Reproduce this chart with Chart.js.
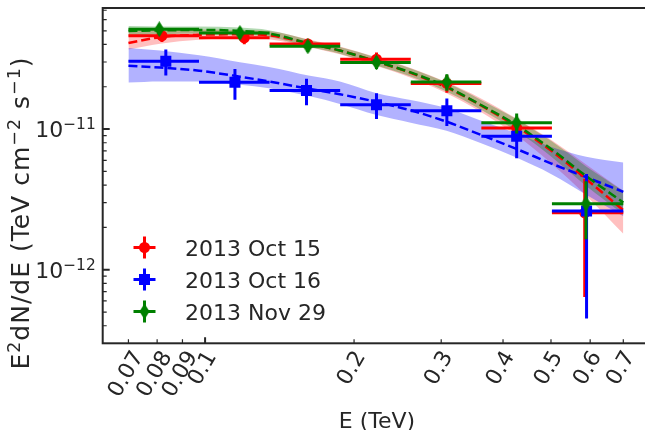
<!DOCTYPE html>
<html>
<head>
<meta charset="utf-8">
<script src="https://cdn.jsdelivr.net/npm/chart.js@4.4.1/dist/chart.umd.min.js"></script>
<style>
  html, body { margin: 0; padding: 0; background: #fff; overflow: hidden; }
  #wrap { width: 660px; height: 430px; }
</style>
</head>
<body>
<div id="wrap"><canvas id="c"></canvas></div>
<script>
// energy bins (TeV), shared by the three nights
const binLo = [0.07, 0.0972, 0.135, 0.1875, 0.2604, 0.3616, 0.5022];
const binHi = [0.0972, 0.135, 0.1875, 0.2604, 0.3616, 0.5022, 0.7];

// flux points E^2 dN/dE (TeV cm^-2 s^-1)
const eOct15 = [0.0818, 0.1200, 0.1613, 0.2220, 0.3080, 0.4262, 0.585];
const fOct15 = [4.61e-11, 4.46e-11, 4.03e-11, 3.14e-11, 2.11e-11, 1.02e-11, 2.54e-12];
const errOct15 = [0.45e-11, 0.45e-11, 0.35e-11, 0.37e-11, 0.30e-11, 0.17e-11, 1.9e-12];

const eOct16 = [0.0833, 0.1149, 0.1603, 0.2220, 0.3080, 0.4262, 0.590];
const fOct16 = [3.04e-11, 2.15e-11, 1.88e-11, 1.49e-11, 1.35e-11, 0.89e-11, 2.62e-12];
const errOct16 = [0.64e-11, 0.53e-11, 0.40e-11, 0.31e-11, 0.30e-11, 0.27e-11, 2.17e-12];

const eNov29 = [0.0808, 0.1176, 0.1613, 0.2220, 0.3080, 0.4262, 0.5884];
const fNov29 = [5.13e-11, 4.83e-11, 3.88e-11, 2.98e-11, 2.16e-11, 1.11e-11, 2.95e-12];
const errNov29 = [0.40e-11, 0.42e-11, 0.35e-11, 0.30e-11, 0.29e-11, 0.18e-11, 1.3e-12];

// fitted spectra and their bands, read at these energies
const fitE = [0.07, 0.0811, 0.0973, 0.1176, 0.1346, 0.1628, 0.1872, 0.2222, 0.2603, 0.3075, 0.3602, 0.4256, 0.5009, 0.589, 0.7];
const fitOct15 = [4.10e-11, 4.50e-11, 4.68e-11, 4.72e-11, 4.64e-11, 4.05e-11, 3.62e-11, 3.02e-11, 2.51e-11, 1.98e-11, 1.48e-11, 1.044e-11, 0.701e-11, 0.441e-11, 0.265e-11];
const hiOct15 = [4.99e-11, 5.07e-11, 5.11e-11, 5.07e-11, 4.99e-11, 4.32e-11, 3.86e-11, 3.24e-11, 2.72e-11, 2.16e-11, 1.66e-11, 1.19e-11, 0.836e-11, 0.560e-11, 0.364e-11];
const loOct15 = [3.68e-11, 4.05e-11, 4.32e-11, 4.42e-11, 4.36e-11, 3.80e-11, 3.40e-11, 2.81e-11, 2.32e-11, 1.80e-11, 1.33e-11, 0.904e-11, 0.569e-11, 0.336e-11, 0.180e-11];

const fitOct16 = [2.82e-11, 2.74e-11, 2.60e-11, 2.36e-11, 2.18e-11, 1.93e-11, 1.77e-11, 1.56e-11, 1.36e-11, 1.13e-11, 0.912e-11, 0.723e-11, 0.569e-11, 0.455e-11, 0.358e-11];
const hiOct16 = [3.77e-11, 3.62e-11, 3.35e-11, 2.99e-11, 2.76e-11, 2.39e-11, 2.18e-11, 1.80e-11, 1.61e-11, 1.41e-11, 1.149e-11, 0.934e-11, 0.747e-11, 0.637e-11, 0.578e-11];
const loOct16 = [2.14e-11, 2.18e-11, 2.18e-11, 2.07e-11, 1.95e-11, 1.71e-11, 1.51e-11, 1.26e-11, 1.11e-11, 0.972e-11, 0.796e-11, 0.627e-11, 0.478e-11, 0.342e-11, 0.240e-11];

const fitNov29 = [4.99e-11, 5.03e-11, 5.07e-11, 4.99e-11, 4.78e-11, 4.05e-11, 3.62e-11, 3.02e-11, 2.53e-11, 2.00e-11, 1.49e-11, 1.07e-11, 0.72e-11, 0.463e-11, 0.301e-11];
const hiNov29 = [5.40e-11, 5.36e-11, 5.36e-11, 5.27e-11, 5.05e-11, 4.29e-11, 3.83e-11, 3.22e-11, 2.70e-11, 2.14e-11, 1.62e-11, 1.18e-11, 0.822e-11, 0.543e-11, 0.364e-11];
const loNov29 = [4.61e-11, 4.72e-11, 4.79e-11, 4.72e-11, 4.52e-11, 3.83e-11, 3.43e-11, 2.83e-11, 2.37e-11, 1.85e-11, 1.38e-11, 0.972e-11, 0.637e-11, 0.394e-11, 0.248e-11];

// axis ticks
const xTicks = [0.07, 0.08, 0.09, 0.1, 0.2, 0.3, 0.4, 0.5, 0.6, 0.7];
const xTickLabels = ['0.07', '0.08', '0.09', '0.1', '0.2', '0.3', '0.4', '0.5', '0.6', '0.7'];
const xMajor = [0.1];
const yMajor = [1e-12, 1e-11];
const yMajorExp = ['\u221212', '\u221211'];
const yMinor = [4e-13, 5e-13, 6e-13, 7e-13, 8e-13, 9e-13, 2e-12, 3e-12, 4e-12, 5e-12, 6e-12, 7e-12, 8e-12, 9e-12, 2e-11, 3e-11, 4e-11, 5e-11, 6e-11, 7e-11];

const legendLabels = ['2013 Oct 15', '2013 Oct 16', '2013 Nov 29'];

const TXT = '#262626';
const FONT = '"DejaVu Sans", sans-serif';
const FS = 22;

function thinDiamond(color) {
    const c = document.createElement('canvas');
    c.width = 11; c.height = 16;
    const g = c.getContext('2d');
    g.fillStyle = color;
    g.beginPath();
    g.moveTo(5.5, 0); g.lineTo(10.5, 8); g.lineTo(5.5, 16); g.lineTo(0.5, 8);
    g.closePath(); g.fill();
    return c;
}
const diamondGreen = thinDiamond('green');

const pts = (xs, ys) => xs.map((x, i) => ({x: x, y: ys[i]}));

function band(hi, lo, color, order) {
    return [
        {data: pts(fitE, hi), borderWidth: 0, pointRadius: 0, fill: '+1', backgroundColor: color,
         cubicInterpolationMode: 'monotone', order: order},
        {data: pts(fitE, lo), borderWidth: 0, pointRadius: 0, fill: false,
         cubicInterpolationMode: 'monotone', order: order}
    ];
}
function fitLine(ys, color, order) {
    return {data: pts(fitE, ys), borderColor: color, borderWidth: 2.5, borderDash: [9, 4],
            pointRadius: 0, fill: false, cubicInterpolationMode: 'monotone', order: order};
}
function points(xs, ys, err, color, style, radius, order) {
    return {data: pts(xs, ys), yErr: err, showLine: false, borderColor: color, backgroundColor: color,
            pointStyle: style, pointRadius: radius, pointBorderWidth: 0, order: order};
}

// text with superscripts, like matplotlib mathtext
function richText(ctx, parts, x, y, align, size) {
    const fs = size || FS;
    const widths = parts.map(p => {
        ctx.font = (p[1] ? fs * 0.7 : fs) + 'px ' + FONT;
        return ctx.measureText(p[0]).width;
    });
    const total = widths.reduce((a, b) => a + b, 0);
    let cx = align === 'right' ? x - total : align === 'center' ? x - total / 2 : x;
    ctx.textAlign = 'left';
    ctx.textBaseline = 'alphabetic';
    parts.forEach((p, i) => {
        ctx.font = (p[1] ? fs * 0.7 : fs) + 'px ' + FONT;
        ctx.fillText(p[0], cx, p[1] ? y - fs * 0.37 : y);
        cx += widths[i];
    });
}

const errorBars = {
    id: 'errorBars',
    beforeDatasetDraw(chart, args) {
        const ds = chart.data.datasets[args.index];
        if (!ds.yErr) return;
        const xs = chart.scales.x, ys = chart.scales.y, ctx = chart.ctx;
        ctx.save();
        ctx.strokeStyle = ds.borderColor;
        ctx.lineWidth = 3;
        ds.data.forEach((p, i) => {
            const px = xs.getPixelForValue(p.x), py = ys.getPixelForValue(p.y);
            ctx.beginPath();
            ctx.moveTo(xs.getPixelForValue(binLo[i]), py);
            ctx.lineTo(xs.getPixelForValue(binHi[i]), py);
            ctx.moveTo(px, ys.getPixelForValue(p.y + ds.yErr[i]));
            ctx.lineTo(px, ys.getPixelForValue(p.y - ds.yErr[i]));
            ctx.stroke();
        });
        ctx.restore();
    }
};

const frame = {
    id: 'frame',
    afterDraw(chart) {
        const ctx = chart.ctx, a = chart.chartArea;
        const xs = chart.scales.x, ys = chart.scales.y;
        ctx.save();
        ctx.strokeStyle = TXT;
        ctx.fillStyle = TXT;
        // spines
        ctx.lineWidth = 2;
        ctx.strokeRect(a.left, a.top, a.right - a.left, a.bottom - a.top);
        // inward ticks
        ctx.lineWidth = 1.2;
        ctx.beginPath();
        yMinor.forEach(v => { const y = ys.getPixelForValue(v); ctx.moveTo(a.left, y); ctx.lineTo(a.left + 4, y); });
        xTicks.forEach(v => {
            if (xMajor.includes(v)) return;
            const x = xs.getPixelForValue(v); ctx.moveTo(x, a.bottom); ctx.lineTo(x, a.bottom - 4);
        });
        ctx.stroke();
        ctx.lineWidth = 2;
        ctx.beginPath();
        yMajor.forEach(v => { const y = ys.getPixelForValue(v); ctx.moveTo(a.left, y); ctx.lineTo(a.left + 7, y); });
        xMajor.forEach(v => { const x = xs.getPixelForValue(v); ctx.moveTo(x, a.bottom); ctx.lineTo(x, a.bottom - 6); });
        ctx.stroke();

        // y tick labels
        yMajor.forEach((v, i) => richText(ctx, [['10', false], [yMajorExp[i], true]], a.left - 7, ys.getPixelForValue(v) + 8, 'right'));

        // x tick labels, rotated 60 degrees and centred under the tick
        ctx.font = FS + 'px ' + FONT;
        const s60 = Math.sin(Math.PI / 3);
        xTicks.forEach((v, i) => {
            const w = ctx.measureText(xTickLabels[i]).width;
            ctx.save();
            ctx.translate(xs.getPixelForValue(v) - 2, a.bottom + 10 + w * s60 / 2);
            ctx.rotate(-Math.PI / 3);
            ctx.textAlign = 'center';
            ctx.textBaseline = 'middle';
            ctx.fillText(xTickLabels[i], 0, 0);
            ctx.restore();
        });

        // axis titles
        ctx.textAlign = 'center';
        ctx.textBaseline = 'alphabetic';
        ctx.fillText('E (TeV)', 377, 427.5);
        ctx.save();
        ctx.translate(29, 213);
        ctx.rotate(-Math.PI / 2);
        ctx.letterSpacing = '1px';
        richText(ctx, [['E', false], ['2', true], ['dN/dE (TeV cm', false], ['\u22122', true],
                       [' s', false], ['\u22121', true], [')', false]], 0, 0, 'center', 25);
        ctx.restore();

        // legend
        ctx.font = FS + 'px ' + FONT;
        const colors = ['red', 'blue', 'green'];
        colors.forEach((c, i) => {
            const y = 247.5 + 32 * i, x = 144.5;
            ctx.strokeStyle = c; ctx.fillStyle = c; ctx.lineWidth = 3;
            ctx.beginPath();
            ctx.moveTo(x - 11, y); ctx.lineTo(x + 11, y);
            ctx.moveTo(x, y - 11); ctx.lineTo(x, y + 11);
            ctx.stroke();
            if (i === 0) { ctx.beginPath(); ctx.arc(x, y, 5.5, 0, Math.PI * 2); ctx.fill(); }
            if (i === 1) ctx.fillRect(x - 5.5, y - 5.5, 11, 11);
            if (i === 2) ctx.drawImage(diamondGreen, x - 5.5, y - 8);
            ctx.fillStyle = TXT;
            ctx.textAlign = 'left';
            ctx.fillText(legendLabels[i], 185, y + 8);
        });
        ctx.restore();
    }
};

new Chart(document.getElementById('c'), {
    type: 'line',
    data: {
        datasets: [
            points(eNov29, fNov29, errNov29, 'green', diamondGreen, 8, 1),
            points(eOct16, fOct16, errOct16, 'blue', 'rect', 7.8, 2),
            points(eOct15, fOct15, errOct15, 'red', 'circle', 5.5, 3),
            fitLine(fitNov29, 'green', 4),
            fitLine(fitOct15, 'red', 5),
            fitLine(fitOct16, 'blue', 6),
            ...band(hiNov29, loNov29, 'rgba(0,128,0,0.3)', 7),
            ...band(hiOct16, loOct16, 'rgba(0,0,255,0.3)', 8),
            ...band(hiOct15, loOct15, 'rgba(255,0,0,0.25)', 9)
        ]
    },
    options: {
        responsive: true,
        maintainAspectRatio: false,
        animation: false,
        layout: { padding: { left: 102.7, top: 7.5, right: 7, bottom: 86.7 } },
        plugins: { legend: { display: false }, tooltip: { enabled: false } },
        scales: {
            x: { type: 'logarithmic', min: 0.0621, max: 0.8, display: false },
            y: { type: 'logarithmic', min: 3.42e-13, max: 7.26e-11, display: false }
        }
    },
    plugins: [errorBars, frame]
});
</script>
</body>
</html>
